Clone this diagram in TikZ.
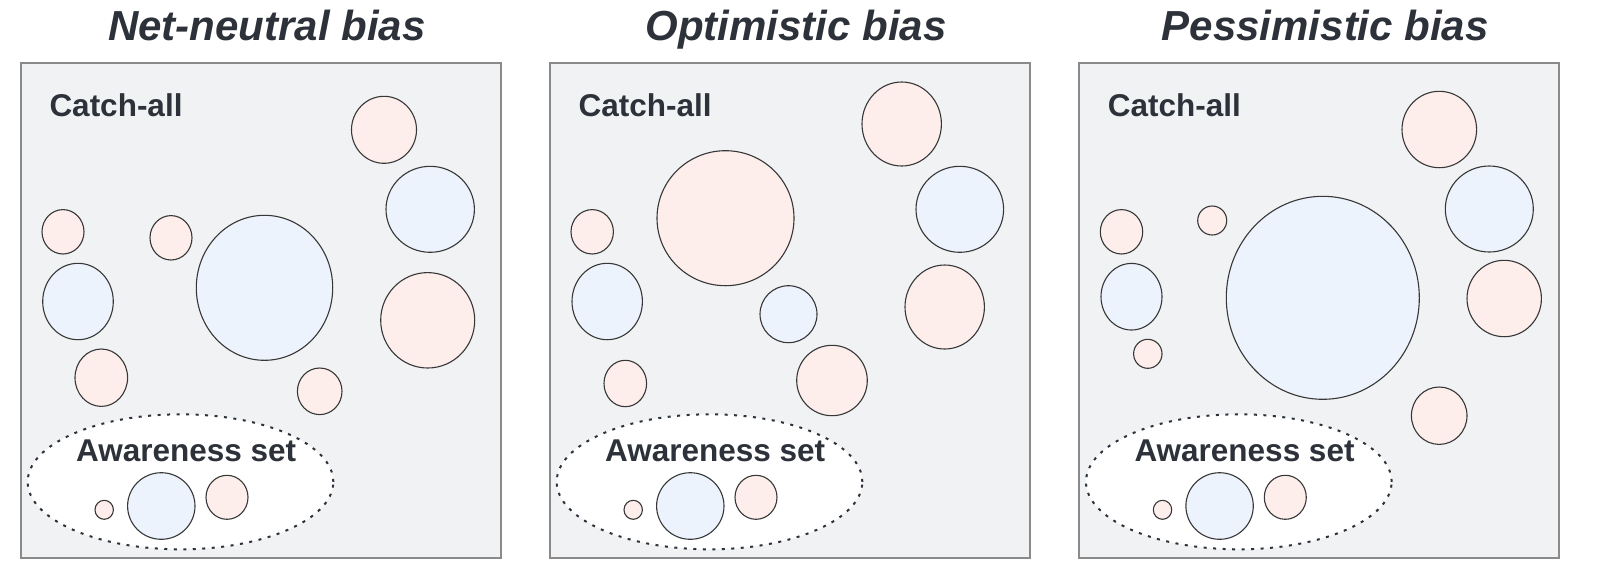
\documentclass[tikz,border=0pt]{standalone}
\usepackage{fontspec}
\setmainfont{Liberation Sans}
\definecolor{txt}{RGB}{45,49,57}
\definecolor{boxbg}{RGB}{241,242,244}
\definecolor{boxline}{RGB}{138,138,138}
\definecolor{pinkf}{RGB}{253,238,236}
\definecolor{bluef}{RGB}{237,243,252}
\definecolor{circline}{RGB}{55,55,55}
\newcommand\pc[4]{\draw[pinkc] (#1,#2) ellipse [x radius=#3pt, y radius=#4pt];}
\newcommand\bc[4]{\draw[bluec] (#1,#2) ellipse [x radius=#3pt, y radius=#4pt];}
\newcommand\biaspanel[3]{%
  \begin{scope}[xshift=#1pt]
    \draw[panelbox] (21,63) rectangle (501,558);
    \node[titletext, anchor=base] (title#3) at (267,40.5) {#2};
    \node[labeltext, anchor=base west] (catch#3) at (49.3,116.7) {Catch-all};
    \draw[awarebox] (180.5,481.8) ellipse [x radius=152.8pt, y radius=67.5pt];
    \node[labeltext, anchor=base west] (aware#3) at (76,461) {Awareness set};
    \pc{104.2}{509.8}{9.2}{9.5}
    \bc{161.3}{506}{33.7}{33.3}
    \pc{227}{497.3}{21}{22}
  \end{scope}}
\begin{document}
\begin{tikzpicture}[x=1pt,y=-1pt,
  panelbox/.style={draw=boxline, line width=2pt, fill=boxbg},
  titletext/.style={text=txt, inner sep=0pt, font=\fontsize{42}{50}\selectfont\bfseries\itshape},
  labeltext/.style={text=txt, inner sep=0pt, font=\fontsize{31.5}{37}\selectfont\bfseries},
  awarebox/.style={draw=txt, fill=white, line width=2pt, dash pattern=on 3pt off 6.5pt},
  pinkc/.style={draw=circline, fill=pinkf, line width=1.1pt},
  bluec/.style={draw=circline, fill=bluef, line width=1.1pt}]
\useasboundingbox (0,0) rectangle (1600,566);
\biaspanel{0}{Net-neutral bias}{a}
\biaspanel{529}{Optimistic bias}{b}
\biaspanel{1058.3}{Pessimistic bias}{c}
% panel 1
\pc{384}{129.8}{32.5}{33.5}
\bc{430.2}{209.3}{44.2}{43}
\pc{63}{231.8}{21}{22.2}
\pc{171}{237.8}{21}{22.2}
\bc{264.5}{287.8}{68.2}{72.5}
\bc{78}{301.5}{35.3}{38.2}
\pc{427.7}{320.3}{47}{47.7}
\pc{101.3}{377.7}{26.3}{28.7}
\pc{319.7}{391.3}{22.3}{23.3}
% panel 2
\pc{901.7}{124}{39.7}{42}
\pc{725.5}{218.2}{68.5}{67.5}
\bc{959.8}{209.3}{43.8}{43}
\pc{592.2}{231.8}{21.2}{22.2}
\bc{607.2}{301.5}{35.2}{38.2}
\pc{944.7}{307}{39.7}{42}
\bc{788.5}{314.2}{28.5}{28.5}
\pc{625.3}{383.5}{21.3}{23.2}
\pc{832}{380.5}{35.3}{35.2}
% panel 3
\pc{1439.3}{129.5}{37.3}{38.2}
\bc{1489.3}{209}{44}{43}
\pc{1121.5}{231.8}{21.2}{22.2}
\pc{1212.2}{220.5}{14.5}{14.5}
\bc{1322.8}{297.8}{96.5}{101.5}
\bc{1131.5}{296.7}{30.5}{33.3}
\pc{1504.2}{298.5}{37.2}{38.2}
\pc{1147.8}{353.8}{14.2}{14.5}
\pc{1439.2}{415.7}{27.8}{28.7}
\end{tikzpicture}
\end{document}
